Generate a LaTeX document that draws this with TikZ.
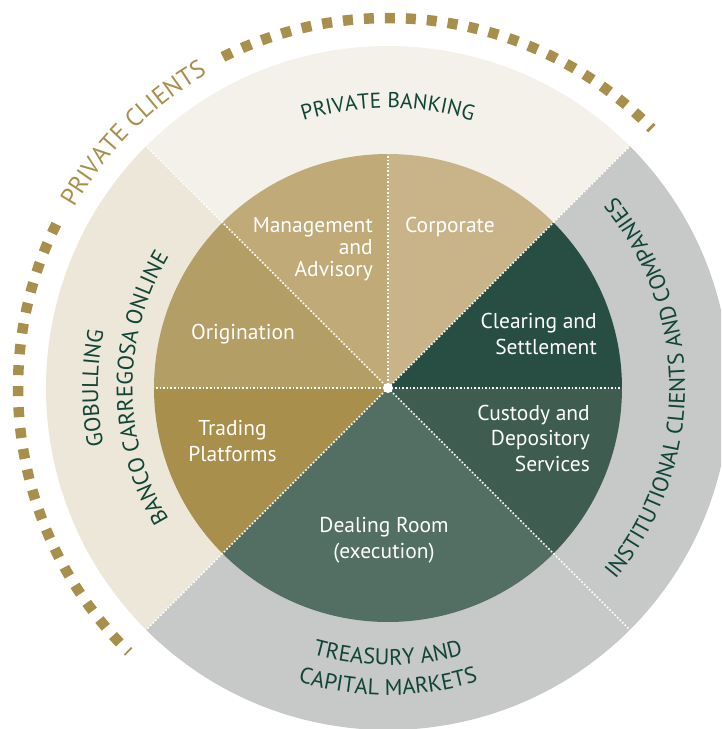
\documentclass[tikz,border=0pt]{standalone}
\usepackage{fontspec}
\setmainfont{PT Sans}
\usetikzlibrary{decorations.text}
\definecolor{ringbank}{HTML}{F4F1EA}
\definecolor{ringonline}{HTML}{EDE7DA}
\definecolor{ringgrey}{HTML}{C6C9C7}
\definecolor{corp}{HTML}{C8B488}
\definecolor{mgmt}{HTML}{BFAA78}
\definecolor{orig}{HTML}{B39E66}
\definecolor{trad}{HTML}{A88F4B}
\definecolor{deal}{HTML}{536E62}
\definecolor{cust}{HTML}{3F5C50}
\definecolor{clear}{HTML}{284E43}
\definecolor{txtgreen}{HTML}{0F4537}
\definecolor{gold}{HTML}{A88F4B}
\newcommand{\ringfont}{\fontsize{22.5}{26}\selectfont}
\newcommand{\bankfont}{\fontsize{21.5}{25}\selectfont}
\newcommand{\clientfont}{\fontsize{25}{29}\selectfont}

\begin{document}
\begin{tikzpicture}[x=1pt,y=1pt,
  inlabel/.style={text=white, font=\fontsize{21.5}{25.5}\selectfont, inner sep=0pt},
  divider/.style={white, line width=1.6pt, dash pattern=on 1.6pt off 2pt},
  squares/.style={gold, line width=10.5pt, dash pattern=on 10pt off 11pt},
  ringtext/.style={decorate, decoration={text along path, text align=center,
    text color=txtgreen, text={|\ringfont|#1}}},
  banktext/.style={decorate, decoration={text along path, text align=center,
    text color=txtgreen, text={|\bankfont|#1}}},
  goldtext/.style={decorate, decoration={text along path, text align=center,
    text color=gold, text={|\clientfont|#1}}}]
  \clip (-388,-341) rectangle (333,388);

  % outer ring
  \fill[ringbank] (0,0) -- (45:342) arc[start angle=45, end angle=135, radius=342] -- cycle;
  \fill[ringonline] (0,0) -- (135:342) arc[start angle=135, end angle=225, radius=342] -- cycle;
  \fill[ringgrey] (0,0) -- (225:342) arc[start angle=225, end angle=405, radius=342] -- cycle;

  % inner pie
  \fill[corp] (0,0) -- (45:234) arc[start angle=45, end angle=90, radius=234] -- cycle;
  \fill[mgmt] (0,0) -- (90:234) arc[start angle=90, end angle=135, radius=234] -- cycle;
  \fill[orig] (0,0) -- (135:234) arc[start angle=135, end angle=180, radius=234] -- cycle;
  \fill[trad] (0,0) -- (180:234) arc[start angle=180, end angle=225, radius=234] -- cycle;
  \fill[deal] (0,0) -- (225:234) arc[start angle=225, end angle=315, radius=234] -- cycle;
  \fill[cust] (0,0) -- (315:234) arc[start angle=315, end angle=360, radius=234] -- cycle;
  \fill[clear] (0,0) -- (0:234) arc[start angle=0, end angle=45, radius=234] -- cycle;

  \draw[divider] (0,0) -- (45:342);
  \draw[divider] (0,0) -- (135:342);
  \draw[divider] (0,0) -- (225:342);
  \draw[divider] (0,0) -- (315:342);
  \draw[divider] (0,0) -- (0:234);
  \draw[divider] (0,0) -- (90:234);
  \draw[divider] (0,0) -- (180:234);
  \fill[white] (0,0) circle[radius=5];

  % dotted arc
  \draw[squares] (116.5:370) arc[start angle=116.5, end angle=44.5, radius=370];
  \draw[squares] (153.7:370) arc[start angle=153.7, end angle=225.5, radius=370];

  \node[inlabel, align=right, anchor=east, font=\fontsize{21.5}{22}\selectfont] (mgmtlbl) at (-15,139) {Management\\and\\Advisory};
  \node[inlabel, anchor=west] (corplbl) at (17,161) {Corporate};
  \node[inlabel] (origlbl) at (-145,54) {Origination};
  \node[inlabel, align=right, anchor=east] (clearlbl) at (209,54) {Clearing and\\Settlement};
  \node[inlabel, align=right, anchor=east] (custlbl) at (202,-50) {Custody and\\Depository\\Services};
  \node[inlabel, align=center] (tradlbl) at (-155.5,-53) {Trading\\Platforms};
  \node[inlabel, align=center] (deallbl) at (-4,-152.5) {Dealing Room\\(execution)};

  % ring texts
  \path[banktext=PRIVATE BANKING] (160:280) arc[start angle=160, end angle=20, radius=280];
  \path[goldtext=PRIVATE CLIENTS] (175:362) arc[start angle=175, end angle=95, radius=362];
  \path[ringtext=GOBULLING] (215:290) arc[start angle=215, end angle=145, radius=290];
  \path[ringtext=BANCO CARREGOSA ONLINE] (225:255.5) arc[start angle=225, end angle=135, radius=255.5];
  \path[ringtext=INSTITUTIONAL CLIENTS AND COMPANIES] (-60:297) arc[start angle=-60, end angle=60, radius=297];
  \path[ringtext=TREASURY AND] (230:277) arc[start angle=230, end angle=310, radius=277];
  \path[ringtext=CAPITAL MARKETS] (230:307) arc[start angle=230, end angle=310, radius=307];
\end{tikzpicture}
\end{document}
